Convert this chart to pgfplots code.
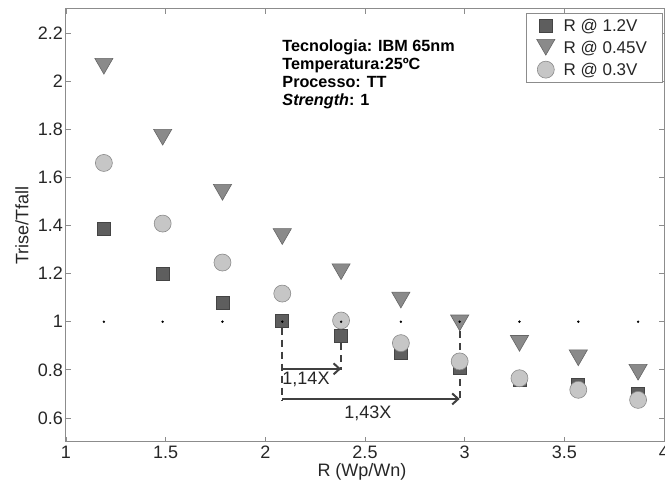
\documentclass[border=0pt]{standalone}
\usepackage{fontspec}
\setmainfont{Liberation Sans}
\usepackage{pgfplots}
\pgfplotsset{compat=1.18}
\usetikzlibrary{arrows.meta}
\definecolor{axiscol}{HTML}{8C8C8C}
\definecolor{labelcol}{HTML}{262626}
\definecolor{sqfill}{HTML}{5E5E5E}
\definecolor{sqedge}{HTML}{444444}
\definecolor{trfill}{HTML}{8A8A8A}
\definecolor{tredge}{HTML}{666666}
\definecolor{cifill}{HTML}{C6C6C6}
\definecolor{ciedge}{HTML}{8A8A8A}
\definecolor{anncol}{HTML}{404040}
\begin{document}
\begin{tikzpicture}
\begin{axis}[name=ax,
  width=598pt, height=433pt, scale only axis,
  xmin=1, xmax=4, ymin=0.5, ymax=2.3,
  xtick={1,1.5,2,2.5,3,3.5,4},
  ytick={0.6,0.8,1,1.2,1.4,1.6,1.8,2,2.2},
  tick align=inside, major tick length=5pt,
  tick style={axiscol, line width=0.8pt},
  axis line style={axiscol, line width=1pt},
  tick label style={font=\fontsize{18}{20}\selectfont, text=labelcol},
  /pgf/number format/assume math mode=true,
  xticklabel style={inner sep=0pt, anchor=north, yshift=-4pt},
  yticklabel style={inner sep=0pt, anchor=east, xshift=-3pt},
  xlabel={R (Wp/Wn)}, ylabel={Trise/Tfall},
  label style={font=\fontsize{18}{20}\selectfont, text=labelcol},
  xlabel style={at={(axis description cs:0.495,-0.07)}, anchor=center, inner sep=0pt},
  ylabel style={at={(axis description cs:-0.0736,0.5)}, anchor=center},
  legend style={at={(1,1)}, anchor=north east, xshift=-1pt, yshift=-4pt,
    draw=axiscol, line width=0.8pt, font=\fontsize{17}{19}\selectfont,
    text=labelcol, inner xsep=10pt, inner ysep=4.5pt, row sep=6pt, column sep=8.7pt,
    cells={anchor=center}, nodes={inner sep=0pt}},
  legend image code/.code={\draw[#1] plot coordinates {(0pt,0pt)};},
]
\addplot[only marks, mark=square*, mark size=6.5pt,
  mark options={fill=sqfill, draw=sqedge, line width=0.6pt}]
  coordinates {(1.19,1.385) (1.485,1.20) (1.785,1.08) (2.085,1.004) (2.38,0.942)
               (2.68,0.87) (2.975,0.808) (3.275,0.757) (3.57,0.737) (3.87,0.70)};
\addlegendentry{\makebox[89pt][l]{\rule[-2pt]{0pt}{16pt}R @ 1.2V}}
\addplot[only marks, mark=triangle*, mark size=10.5pt,
  mark options={yshift=2.625pt, rotate=180, fill=trfill, draw=tredge, line width=0.6pt}]
  coordinates {(1.19,2.062) (1.485,1.767) (1.785,1.538) (2.085,1.354) (2.38,1.208)
               (2.68,1.09) (2.975,0.995) (3.275,0.91) (3.57,0.85) (3.87,0.79)};
\addlegendentry{\makebox[89pt][l]{\rule[-2pt]{0pt}{16pt}R @ 0.45V}}
\addplot[only marks, mark=*, mark size=8.5pt,
  mark options={fill=cifill, draw=ciedge, line width=0.6pt}]
  coordinates {(1.19,1.66) (1.485,1.408) (1.785,1.246) (2.085,1.117) (2.38,1.005)
               (2.68,0.911) (2.975,0.835) (3.275,0.765) (3.57,0.717) (3.87,0.675)};
\addlegendentry{\makebox[89pt][l]{\rule[-2pt]{0pt}{16pt}R @ 0.3V}}
\addplot[forget plot, only marks, mark=*, mark size=1pt, mark options={fill=black, draw=black}]
  coordinates {(1.19,1) (1.485,1) (1.785,1) (2.085,1) (2.38,1)
               (2.68,1) (2.975,1) (3.275,1) (3.57,1) (3.87,1)};
% dashed guides
\addplot[forget plot, anncol, line width=2pt, dash pattern=on 7pt off 5pt]
  coordinates {(2.085,0.975) (2.085,0.675)};
\addplot[forget plot, anncol, line width=2pt, dash pattern=on 7pt off 5pt]
  coordinates {(2.38,0.96) (2.38,0.80)};
\addplot[forget plot, anncol, line width=2pt, dash pattern=on 7pt off 5pt]
  coordinates {(2.975,0.96) (2.975,0.675)};
% arrows
\addplot[forget plot, anncol, line width=2pt, -{Straight Barb[length=6pt,width=11pt]}]
  coordinates {(2.085,0.804) (2.38,0.804)};
\addplot[forget plot, anncol, line width=2pt, -{Straight Barb[length=6pt,width=11pt]}]
  coordinates {(2.085,0.679) (2.975,0.679)};
\node[anchor=west, inner sep=0pt, font=\fontsize{18}{20}\selectfont, text=labelcol]
  at (axis cs:2.085,0.758) {1,14X};
\node[anchor=center, inner sep=0pt, font=\fontsize{18}{20}\selectfont, text=labelcol]
  at (axis cs:2.515,0.621) {1,43X};
\node[anchor=north west, inner sep=0pt, align=left,
  font=\fontsize{16.2}{18}\selectfont\bfseries]
  at (axis cs:2.085,2.175) {Tecnologia: IBM 65nm\\Temperatura:25ºC\\Processo: TT\\\textit{Strength}: 1};
\end{axis}
\pgfresetboundingbox
\path[use as bounding box] ([xshift=-66pt,yshift=-42pt]ax.south west) rectangle ([xshift=1pt,yshift=9pt]ax.north east);
\end{tikzpicture}
\end{document}
